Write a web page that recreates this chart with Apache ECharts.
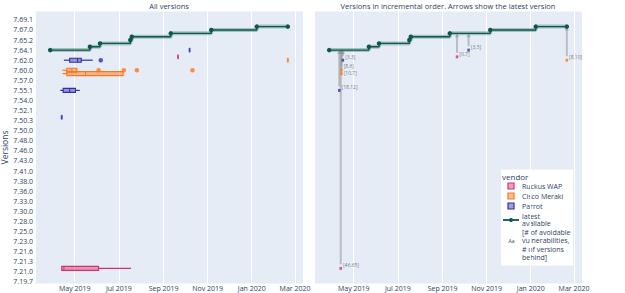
<!DOCTYPE html>
<html><head><meta charset="utf-8">
<script src="https://cdn.jsdelivr.net/npm/echarts@6/dist/echarts.min.js"></script>
<style>html,body{margin:0;padding:0;background:#fff}#c{width:625px;height:293px}</style>
</head><body><div id="c"></div>
<script>
// ---- y axis tick labels (every 3rd version category is labelled) ----
const versionTicks = ['7.19.7','7.21.0','7.21.3','7.21.6','7.23.0','7.25.0','7.28.0','7.30.0','7.33.0','7.36.0','7.38.0','7.41.0','7.43.0','7.46.0','7.48.0','7.50.0','7.50.3','7.52.1','7.54.0','7.55.1','7.57.0','7.60.0','7.62.0','7.64.1','7.65.2','7.67.0','7.69.1'];
const hiddenAbove = 2;           // unlabelled versions above the top tick
const vendors = ['Ruckus WAP','Cisco Meraki','Parrot'];

// ---- latest available version (category index) ----
const latestDates  = ['2019-03-28','2019-05-22','2019-06-05','2019-07-17','2019-07-19','2019-09-11','2019-11-06','2020-01-08','2020-02-20'];
const latestLevels = [69,70,71,72,73,74,75,76,76];

// ---- boxes per vendor: version index, [min, q1, median, q3, max] ----
const ruckusVersions = [4, 67];
const ruckusStats = [
  ['2019-04-13','2019-04-13','2019-04-16','2019-06-03','2019-07-18'],
  ['2019-09-21','2019-09-21','2019-09-21','2019-09-21','2019-09-21']];
const ciscoVersions = [63, 62, 66];
const ciscoStats = [
  ['2019-04-14','2019-04-20','2019-04-27','2019-05-04','2019-05-04'],
  ['2019-04-14','2019-04-20','2019-05-16','2019-07-07','2019-07-07'],
  ['2020-02-20','2020-02-20','2020-02-20','2020-02-20','2020-02-20']];
const parrotVersions = [66, 57, 69, 49];
const parrotStats = [
  ['2019-04-16','2019-04-24','2019-05-05','2019-05-10','2019-05-26'],
  ['2019-04-11','2019-04-15','2019-04-24','2019-05-02','2019-05-08'],
  ['2019-10-07','2019-10-07','2019-10-07','2019-10-07','2019-10-07'],
  ['2019-04-13','2019-04-13','2019-04-13','2019-04-13','2019-04-13']];
// outliers
const ciscoOutlierVersion = [63,63,63,63];
const ciscoOutlierDates = ['2019-06-03','2019-07-08','2019-07-26','2019-10-11'];
const parrotOutlierVersion = [66];
const parrotOutlierDates = ['2019-06-06'];

// ---- right panel: first-seen version per vendor ----
const seenVendor  = ['Parrot','Cisco Meraki','Cisco Meraki','Parrot','Ruckus WAP','Ruckus WAP','Parrot','Cisco Meraki'];
const seenDates   = ['2019-04-16','2019-04-14','2019-04-14','2019-04-11','2019-04-13','2019-09-21','2019-10-07','2020-02-20'];
const seenVersion = [66,63,62,57,4,67,69,66];
const seenText    = ['[3,3]','[8,6]','[10,7]','[18,12]','[46,65]','[0,7]','[3,5]','[8,10]'];

// ---- x axis range ----
const xMin = '2019-03-07', xMax = '2020-03-12';

// ================= build =================
const T = s => { const [y,m,d] = s.split('-').map(Number); return new Date(y, m-1, d).getTime(); };
const cats = [];
versionTicks.forEach((v, k) => {
  cats.push(v);
  if (k < versionTicks.length - 1) { cats.push(v + '·a'); cats.push(v + '·b'); }
});
for (let i = 0; i < hiddenAbove; i++) cats.push(versionTicks[versionTicks.length-1] + '·' + (i+1));

const COLORS = {
  'Ruckus WAP':   {stroke:'#d8306f', fill:'rgba(216,48,111,0.45)'},
  'Cisco Meraki': {stroke:'#ff7517', fill:'rgba(255,117,23,0.45)'},
  'Parrot':       {stroke:'#2f2fa8', fill:'rgba(47,47,168,0.45)'}
};
const GREEN = '#0d5947';
const FONT = '"Open Sans", sans-serif';
const TXT = '#2a3f5f';
const months = ['Jan','Feb','Mar','Apr','May','Jun','Jul','Aug','Sep','Oct','Nov','Dec'];

function boxData(vers, stats) { return vers.map((v,i) => [v].concat(stats[i].map(T))); }
function boxRender(c) {
  return function(params, api) {
    const v = api.value(0);
    const p = [1,2,3,4,5].map(i => api.coord([api.value(i), v]));
    const y = p[0][1], h = 4;
    let x1 = p[1][0], x3 = p[3][0];
    const single = (x3 - x1 < 1.5);
    if (single) { const m = (x1 + x3) / 2; x1 = m - 0.5; x3 = m + 0.5; }
    return {type:'group', children:[
      {type:'line', shape:{x1:p[0][0], y1:y, x2:x1, y2:y}, style:{stroke:c.stroke, lineWidth:1.2}},
      {type:'line', shape:{x1:x3, y1:y, x2:p[4][0], y2:y}, style:{stroke:c.stroke, lineWidth:1.2}},
      {type:'rect', shape:{x:x1, y:y-h/2, width:x3-x1, height:h}, style:{fill:c.fill, stroke:c.stroke, lineWidth:single?0.8:1.1, opacity:single?0.8:1}},
      {type:'line', shape:{x1:p[2][0], y1:y-h/2, x2:p[2][0], y2:y+h/2}, style:{stroke:c.stroke, lineWidth:single?0.6:1}}
    ]};
  };
}
function boxSeries(name, vers, stats) {
  return {type:'custom', name, xAxisIndex:0, yAxisIndex:0, renderItem:boxRender(COLORS[name]),
    encode:{x:[1,2,3,4,5], y:0}, data:boxData(vers, stats), z:3};
}
const latestData = latestDates.map((d,i) => [T(d), latestLevels[i]]);
function latestAt(t) {
  let lv = latestLevels[0];
  latestData.forEach(p => { if (p[0] <= t) lv = p[1]; });
  return lv;
}
function latestSeries(ax) {
  return [
    {type:'line', name:'latest band', xAxisIndex:ax, yAxisIndex:ax, data:latestData, step:'start', symbol:'none',
     lineStyle:{color:'rgba(13,89,71,0.3)', width:4}, z:2, silent:true},
    {type:'line', name:'latest available', xAxisIndex:ax, yAxisIndex:ax, data:latestData, step:'start',
     symbol:'circle', symbolSize:4.5, showSymbol:true, showAllSymbol:true,
     lineStyle:{color:GREEN, width:1.4}, itemStyle:{color:GREEN}, z:4}
  ];
}

// label vertical offsets for the right panel (keeps close labels apart)
const seenLabelDy = [-3,-4.5,-1,-3,-3,-3,-3,-3];

const arrowData = seenDates.map((d,i) => [T(d), seenVersion[i], latestAt(T(d))]);
const series = [
  boxSeries('Ruckus WAP', ruckusVersions, ruckusStats),
  boxSeries('Cisco Meraki', ciscoVersions, ciscoStats),
  boxSeries('Parrot', parrotVersions, parrotStats),
  {type:'scatter', name:'Cisco outliers', xAxisIndex:0, yAxisIndex:0, symbol:'circle', symbolSize:4.5,
   itemStyle:{color:COLORS['Cisco Meraki'].stroke}, data:ciscoOutlierDates.map((d,i)=>[T(d), ciscoOutlierVersion[i]]), z:3},
  {type:'scatter', name:'Parrot outliers', xAxisIndex:0, yAxisIndex:0, symbol:'circle', symbolSize:4.5,
   itemStyle:{color:COLORS['Parrot'].stroke}, data:parrotOutlierDates.map((d,i)=>[T(d), parrotOutlierVersion[i]]), z:3},
  ...latestSeries(0),
  ...latestSeries(1),
  {type:'custom', name:'arrows', xAxisIndex:1, yAxisIndex:1, encode:{x:0, y:[1,2]}, data:arrowData, z:2,
   renderItem:function(params, api){
     const a = api.coord([api.value(0), api.value(1)]);
     const b = api.coord([api.value(0), api.value(2)]);
     const x = a[0];
     return {type:'group', children:[
       {type:'line', shape:{x1:x, y1:a[1]-4, x2:x, y2:b[1]+2}, style:{stroke:'rgba(150,150,150,0.55)', lineWidth:2}},
       {type:'polygon', shape:{points:[[x-2.2,b[1]+4],[x+2.2,b[1]+4],[x,b[1]]]}, style:{fill:'rgba(150,150,150,0.6)'}}
     ]};
   }}
];
vendors.forEach(vn => {
  const idx = seenVendor.map((v,i)=>v===vn?i:-1).filter(i=>i>=0);
  series.push({type:'scatter', name:vn+' seen', xAxisIndex:1, yAxisIndex:1, symbol:'rect', symbolSize:[2.5,3],
    itemStyle:{color:COLORS[vn].stroke}, z:5,
    data: idx.map(i => ({value:[T(seenDates[i]), seenVersion[i]], txt:seenText[i],
      label:{offset:[0, seenLabelDy[i]]}})),
    label:{show:true, position:'right', distance:1, formatter:p=>p.data.txt,
      fontSize:5, color:'#555', fontFamily:FONT}});
});

function xAxis(gi) {
  return {type:'time', gridIndex:gi, min:T(xMin), max:T(xMax),
    axisLine:{show:false}, axisTick:{show:false},
    splitLine:{show:true, lineStyle:{color:'#ffffff', width:1}},
    axisLabel:{fontSize:7, color:TXT, fontFamily:FONT, margin:1.5, hideOverlap:false,
      formatter:v => { const d = new Date(v); return months[d.getMonth()] + ' ' + d.getFullYear(); }}};
}
function yAxis(gi, showLabels) {
  return {type:'category', gridIndex:gi, data:cats, boundaryGap:true,
    axisLine:{show:false}, axisTick:{show:false}, splitLine:{show:false},
    name: showLabels ? 'Versions' : '', nameLocation:'middle', nameGap:25,
    nameTextStyle:{fontSize:8.5, color:TXT, fontFamily:FONT},
    axisLabel:{show:showLabels, interval:2, fontSize:7, color:TXT, fontFamily:FONT, margin:2}};
}

const legendG = [
  {type:'rect', shape:{x:501, y:169.5, width:72, height:96}, style:{fill:'#ffffff'}},
  {type:'text', x:502, y:176, style:{text:'vendor', fontSize:8, fill:TXT, fontFamily:FONT, verticalAlign:'middle'}},
];
vendors.forEach((vn,i) => {
  legendG.push({type:'rect', shape:{x:508, y:183+10*i, width:6, height:6}, style:{fill:COLORS[vn].fill, stroke:COLORS[vn].stroke, lineWidth:1.2}});
  legendG.push({type:'text', x:522, y:186+10*i, style:{text:vn, fontSize:7, fill:TXT, fontFamily:FONT, verticalAlign:'middle'}});
});
legendG.push({type:'line', shape:{x1:503, y1:220, x2:519, y2:220}, style:{stroke:GREEN, lineWidth:1.8}});
legendG.push({type:'circle', shape:{cx:511, cy:220, r:2}, style:{fill:GREEN}});
legendG.push({type:'text', x:522, y:220, style:{text:'latest\navailable', fontSize:7, lineHeight:7.6, fill:TXT, fontFamily:FONT, verticalAlign:'middle'}});
legendG.push({type:'text', x:511.5, y:241, style:{text:'Aa', fontSize:5, fill:TXT, fontFamily:FONT, align:'center', verticalAlign:'middle'}});
legendG.push({type:'text', x:522, y:245, style:{text:'[# of avoidable\nvulnerabilities,\n# of versions\nbehind]', fontSize:7, lineHeight:8.2, fill:TXT, fontFamily:FONT, verticalAlign:'middle'}});

const chart = echarts.init(document.getElementById('c'), null, {renderer:'svg'});
chart.setOption({
  animation:false,
  backgroundColor:'#ffffff',
  textStyle:{fontFamily:FONT},
  grid:[
    {left:35, top:11.5, width:268, height:272, show:true, backgroundColor:'#E5ECF6', borderWidth:0, outerBoundsMode:'none'},
    {left:314, top:11.5, width:268, height:272, show:true, backgroundColor:'#E5ECF6', borderWidth:0, outerBoundsMode:'none'}
  ],
  xAxis:[xAxis(0), xAxis(1)],
  yAxis:[yAxis(0,true), yAxis(1,false)],
  series,
  graphic:[
    {type:'text', x:169, y:6, style:{text:'All versions', fontSize:7.5, fill:TXT, fontFamily:FONT, align:'center', verticalAlign:'middle'}},
    {type:'text', x:448, y:6, style:{text:'Versions in incremental order. Arrows show the latest version', fontSize:7.5, fill:TXT, fontFamily:FONT, align:'center', verticalAlign:'middle'}},
    ...legendG
  ]
});
</script></body></html>
